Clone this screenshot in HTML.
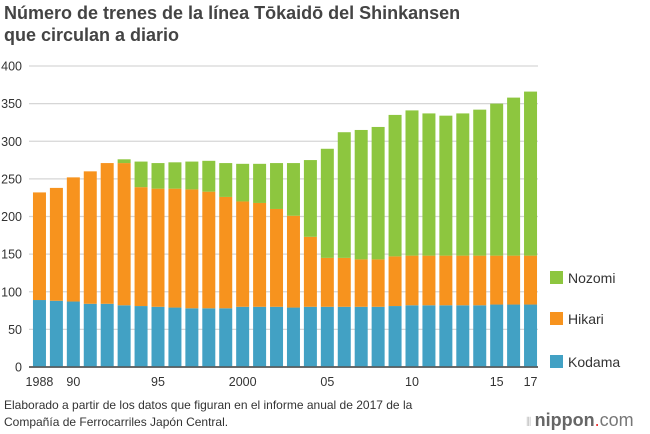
<!DOCTYPE html>
<html><head><meta charset="utf-8"><style>
body{margin:0;width:650px;height:434px;background:#fff;font-family:"Liberation Sans",Arial,sans-serif;overflow:hidden;position:relative}
.t{position:absolute;left:4px;top:2px;font-size:18px;font-weight:bold;color:#444;line-height:22px}
.f{position:absolute;left:4px;top:397px;font-size:12px;color:#333;line-height:17px}
.logo{position:absolute;left:526px;top:410px;font-size:18px;color:#777;white-space:nowrap}
</style></head><body>
<div class="t">Número de trenes de la línea Tōkaidō del Shinkansen<br>que circulan a diario</div>
<svg id="c" width="650" height="434" style="position:absolute;left:0;top:0"></svg>
<div class="f">Elaborado a partir de los datos que figuran en el informe anual de 2017 de la<br>Compañía de Ferrocarriles Japón Central.</div>
<div class="logo"><span style="color:#bbb;font-size:12px">⦀ </span><b style="color:#666">nippon</b><span style="color:#e33">.</span>com</div>
<script>
const years=[1988,1989,1990,1991,1992,1993,1994,1995,1996,1997,1998,1999,2000,2001,2002,2003,2004,2005,2006,2007,2008,2009,2010,2011,2012,2013,2014,2015,2016,2017];
const kodama=[89,88,87,84,84,82,81,80,79,78,78,78,80,80,80,79,80,80,80,80,80,81,82,82,82,82,82,83,83,83];
const hikari=[143,150,165,176,187,189,158,157,158,158,155,148,140,138,130,122,93,65,65,63,63,66,66,66,66,66,66,65,65,65];
const nozomi=[0,0,0,0,0,5,34,34,35,37,41,45,50,52,61,70,102,145,167,172,176,188,193,189,186,189,194,202,210,218];
const yTicks=[0,50,100,150,200,250,300,350,400];
const xLabels=[["1988",1988],["90",1990],["95",1995],["2000",2000],["05",2005],["10",2010],["15",2015],["17",2017]];
const svg=document.getElementById('c');const NS='http://www.w3.org/2000/svg';
const L=29,R=538,B=367,T=66;
const y=v=>B-v*(B-T)/400;
const step=(R-L-1)/30;
const xc=yr=>L+2+step*(years.indexOf(yr)+0.5);
function mk(tag,a,txt){const e=document.createElementNS(NS,tag);for(const k in a)e.setAttribute(k,a[k]);if(txt!=null)e.textContent=txt;svg.appendChild(e);return e;}
yTicks.forEach(v=>{
 const g=mk('line',{x1:L,x2:R,y1:y(v),y2:y(v),stroke:v==0?'#555':'#d6d6d6','stroke-width':v==0?1.5:1.2});
 
 
 const t=mk('text',{x:22,y:y(v)+4.5,'text-anchor':'end','font-size':12.5,fill:'#333'},v);
 
 
});
const cols=['#42a1c4','#f7931e','#8dc63f'];
years.forEach((yr,i)=>{
 const segs=[kodama[i],hikari[i],nozomi[i]];let base=0;
 segs.forEach((s,j)=>{if(s<=0)return;
  const r=mk('rect',{x:xc(yr)-6.5,y:y(base+s),width:13,height:y(base)-y(base+s),fill:cols[j]});
  
  
  base+=s;});
});
mk('line',{x1:L,x2:R,y1:B,y2:B,stroke:'#555','stroke-width':1.5});
xLabels.forEach(([s,yr])=>{
 const t=mk('text',{x:xc(yr),y:386,'text-anchor':'middle','font-size':12.5,fill:'#333'},s);
 
 
});
[['Nozomi',271,2],['Hikari',312,1],['Kodama',355,0]].forEach(([n,yy,c])=>{
 const r=mk('rect',{x:550,y:yy,width:13,height:13,fill:cols[c]});
 
 
 const t=mk('text',{x:568,y:yy+12,'font-size':14,fill:'#333'},n);
 
 
});
</script>
</body></html>
